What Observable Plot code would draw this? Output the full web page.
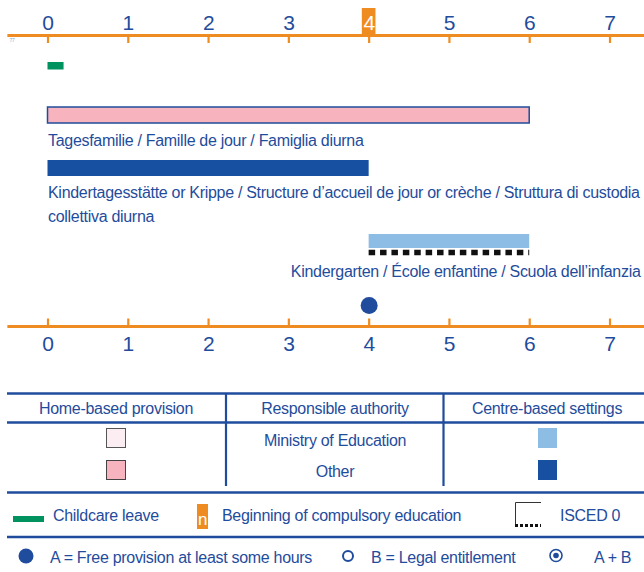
<!DOCTYPE html>
<html>
<head>
<meta charset="utf-8">
<script src="https://cdn.jsdelivr.net/npm/d3@7"></script>
<script src="https://cdn.jsdelivr.net/npm/@observablehq/plot@0.6"></script>
<style>
  html, body { margin: 0; padding: 0; background: #fff; }
  #page { position: relative; width: 644px; height: 572px; overflow: hidden; }
  #page svg { display: block; }
</style>
</head>
<body>
<div id="page"></div>
<script>
// ---------------- DATA ----------------
const ages = [0, 1, 2, 3, 4, 5, 6, 7];
const compulsoryAge = [4];
const leaveStart = [0];
const leaveEnd = [0.2];
const settingNames = [
  "Tagesfamilie / Famille de jour / Famiglia diurna",
  "Kindertagesstätte or Krippe / Structure d’accueil de jour or crèche / Struttura di custodia\ncollettiva diurna",
  "Kindergarten / École enfantine / Scuola dell’infanzia"
];
const settingStart = [0, 0, 4];
const settingEnd = [6, 4, 6];
const settingType = ["Home-based, Other", "Centre-based, Other", "Centre-based, Ministry of Education"];
const iscedStart = [4];
const iscedEnd = [6];
const freeProvisionAges = [4];
const microNote = ["77"];

// legend texts
const tableHeaders = ["Home-based provision", "Responsible authority", "Centre-based settings"];
const authorities = ["Ministry of Education", "Other"];
const keyLabels = ["Childcare leave", "Beginning of compulsory education", "ISCED 0"];
const accessLabels = ["A = Free provision at least some hours", "B = Legal entitlement", "A + B"];

// ---------------- STYLE / LAYOUT ----------------
const FONT = '"Liberation Sans", Arial, sans-serif';
const SPACING = "-0.3px";
const ORANGE = "#ef8c21";
const BLUE = "#1f4c9c";
const DARKBLUE = "#1750a0";
const LIGHTBLUE = "#8dbde5";
const PINK = "#f7b4be";
const LIGHTPINK = "#fbedf1";
const GREEN = "#00925f";
const fillFor = {
  "Home-based, Other": PINK,
  "Home-based, Ministry of Education": LIGHTPINK,
  "Centre-based, Other": DARKBLUE,
  "Centre-based, Ministry of Education": LIGHTBLUE
};
const H = 356;
const lane = {
  topAxis: 35, topTick: 43, topLabel: 29.3, highlightTop: 8,
  leave: [62, 69.5],
  bars: [[107, 123], [160, 176], [234, 248]],
  labels: [145.3, 221, 276],
  labelAnchor: ["start", "start", "end"],
  isced: 252,
  dot: 305,
  bottomAxis: 326, bottomTick: 318.5, bottomLabel: 350
};
const axisExtent = [-0.5, 7.43];

const settings = settingNames.map((name, i) => ({
  name, start: settingStart[i], end: settingEnd[i], type: settingType[i],
  y1: lane.bars[i][0], y2: lane.bars[i][1], ly: lane.labels[i], anchor: lane.labelAnchor[i]
}));

const chart = Plot.plot({
  width: 644,
  height: H,
  marginLeft: 47.5,
  marginRight: 34.5,
  marginTop: 0,
  marginBottom: 0,
  x: { domain: [0, 7], axis: null },
  y: { domain: [0, H], range: [0, H], axis: null },
  style: { fontFamily: FONT, letterSpacing: SPACING, background: "transparent", overflow: "visible" },
  marks: [
    // axes lines
    Plot.ruleY([lane.topAxis, lane.bottomAxis], { x1: axisExtent[0], x2: axisExtent[1], stroke: ORANGE, strokeWidth: 3 }),
    // compulsory education highlight
    Plot.rect(compulsoryAge, { x1: d => d - 0.085, x2: d => d + 0.085, y1: lane.highlightTop, y2: lane.topAxis, fill: ORANGE }),
    // ticks
    Plot.ruleX(ages, { x: d => d, y1: lane.topAxis, y2: lane.topTick, stroke: ORANGE, strokeWidth: 2.2 }),
    Plot.ruleX(ages, { x: d => d, y1: lane.bottomTick, y2: lane.bottomAxis, stroke: ORANGE, strokeWidth: 2.2 }),
    // tick labels
    Plot.text(ages, { x: d => d, y: lane.topLabel, text: d => String(d), lineAnchor: "bottom", fontSize: 21,
      fill: d => compulsoryAge.includes(d) ? "#ffffff" : BLUE }),
    Plot.text(ages, { x: d => d, y: lane.bottomLabel, text: d => String(d), lineAnchor: "bottom", fontSize: 21, fill: BLUE }),
    Plot.text(microNote, { x: axisExtent[0] + 0.02, y: lane.topAxis + 5, text: d => d, textAnchor: "start", fontSize: 5, fill: "#8fa3c7" }),
    // childcare leave
    Plot.rect(leaveStart, { x1: d => d, x2: (d, i) => leaveEnd[i], y1: lane.leave[0], y2: lane.leave[1], fill: GREEN }),
    // settings bars
    Plot.rect(settings, { x1: "start", x2: "end", y1: "y1", y2: "y2", fill: d => fillFor[d.type],
      stroke: d => d.type.startsWith("Home") ? BLUE : "none", strokeWidth: 1.5 }),
    // ISCED 0 dashes
    Plot.ruleY(iscedStart, { x1: d => d, x2: (d, i) => iscedEnd[i], y: lane.isced, stroke: "#111", strokeWidth: 5.5, strokeDasharray: "6.5,4.9" }),
    // labels
    Plot.text(settings.filter(d => d.anchor === "start"), { x: "start", y: "ly", text: "name", textAnchor: "start", lineAnchor: "bottom", lineHeight: 1.45, fontSize: 16, fill: BLUE }),
    Plot.text(settings.filter(d => d.anchor === "end"), { x: axisExtent[1], y: "ly", text: "name", textAnchor: "end", dx: -4, lineAnchor: "bottom", fontSize: 16, fill: BLUE }),
    // free provision dot
    Plot.dot(freeProvisionAges, { x: d => d, y: lane.dot, r: 8.5, fill: BLUE, stroke: "none" })
  ]
});
document.getElementById("page").appendChild(chart);

// ---------------- LEGEND (below the plot svg) ----------------
const off = H;
const L = d3.select("#page").append("svg")
  .attr("width", 644).attr("height", 572 - H)
  .style("font-family", FONT)
  .style("letter-spacing", SPACING)
  .append("g").attr("transform", `translate(0,${-off})`);

function hline(y, w) { L.append("line").attr("x1", 7).attr("x2", 644).attr("y1", y).attr("y2", y).attr("stroke", BLUE).attr("stroke-width", w); }
function vline(x, y1, y2) { L.append("line").attr("x1", x).attr("x2", x).attr("y1", y1).attr("y2", y2).attr("stroke", BLUE).attr("stroke-width", 2.2); }
function txt(s, x, y, anchor, fill, size) {
  L.append("text").attr("x", x).attr("y", y).attr("text-anchor", anchor || "start")
    .attr("fill", fill || BLUE).attr("font-size", size || 16).text(s);
}

hline(393.5, 2.6);
hline(422.5, 2.6);
vline(226, 393, 486);
vline(443.5, 393, 486);
hline(492.5, 2.6);
hline(537, 2.6);

txt(tableHeaders[0], 116, 414, "middle");
txt(tableHeaders[1], 335, 414, "middle");
txt(tableHeaders[2], 547, 414, "middle");
txt(authorities[0], 335, 445.5, "middle");
txt(authorities[1], 335, 477, "middle");

L.append("rect").attr("x", 106.5).attr("y", 428.5).attr("width", 19).attr("height", 19).attr("fill", LIGHTPINK).attr("stroke", "#555").attr("stroke-width", 1);
L.append("rect").attr("x", 106.5).attr("y", 460.5).attr("width", 19).attr("height", 19).attr("fill", PINK).attr("stroke", "#444").attr("stroke-width", 1);
L.append("rect").attr("x", 538).attr("y", 428).attr("width", 19).attr("height", 20).attr("fill", LIGHTBLUE);
L.append("rect").attr("x", 538).attr("y", 460).attr("width", 19).attr("height", 20).attr("fill", DARKBLUE);

// key row
L.append("rect").attr("x", 13).attr("y", 516).attr("width", 31).attr("height", 6).attr("fill", GREEN);
txt(keyLabels[0], 53, 521);
L.append("rect").attr("x", 197).attr("y", 504).attr("width", 11).attr("height", 25).attr("fill", ORANGE);
txt("n", 202.5, 525, "middle", "#fff", 17);
txt(keyLabels[1], 222, 521);
L.append("path").attr("d", "M515.5,527 V502.5 H541").attr("fill", "none").attr("stroke", "#333").attr("stroke-width", 1);
L.append("line").attr("x1", 515).attr("x2", 541).attr("y1", 525.5).attr("y2", 525.5).attr("stroke", "#111").attr("stroke-width", 3).attr("stroke-dasharray", "3,2");
txt(keyLabels[2], 560, 521);

// access row
L.append("circle").attr("cx", 26).attr("cy", 556).attr("r", 7.5).attr("fill", BLUE);
txt(accessLabels[0], 50, 563);
L.append("circle").attr("cx", 348).attr("cy", 556).attr("r", 5).attr("fill", "none").attr("stroke", BLUE).attr("stroke-width", 2);
txt(accessLabels[1], 371, 563);
L.append("circle").attr("cx", 556).attr("cy", 555.5).attr("r", 6).attr("fill", "none").attr("stroke", BLUE).attr("stroke-width", 1.6);
L.append("circle").attr("cx", 556).attr("cy", 555.5).attr("r", 2.8).attr("fill", BLUE);
txt(accessLabels[2], 594, 563);
</script>
</body>
</html>
